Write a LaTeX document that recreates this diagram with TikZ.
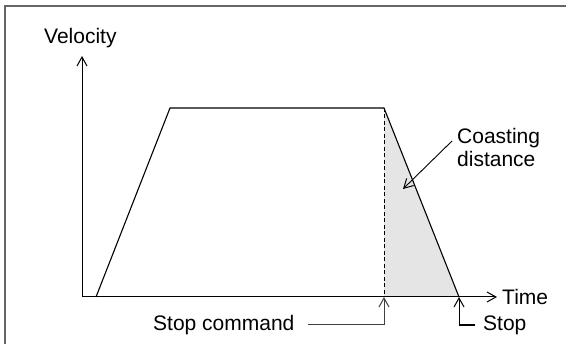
\documentclass[tikz,border=0pt]{standalone}
\usepackage{fontspec}
\setmainfont{Liberation Sans}
\usetikzlibrary{arrows.meta}
\tikzset{
  lbl/.style={inner sep=0pt, font=\fontsize{21}{23}\selectfont},
  axis/.style={line width=1pt, black},
  openarrow/.style={-{Straight Barb[length=9pt,width=10pt,line width=1pt]}},
  curve/.style={line width=1.1pt, black},
}
\begin{document}
\begin{tikzpicture}[x=1pt,y=-1pt]
\useasboundingbox (0,0) rectangle (566,344);
\clip (0,0) rectangle (566,344);
\fill[white] (0,0) rectangle (566,344);
% frame
\draw[line width=1.6pt, black!60] (5,6) rectangle (575,354);
% coordinates
\coordinate (O) at (82,297);
\coordinate (Ytop) at (82,56);
\coordinate (Xend) at (497,297);
\coordinate (A) at (96,297);
\coordinate (B) at (170,108);
\coordinate (C) at (384,108);
\coordinate (D) at (459,297);
\coordinate (Cb) at (384,297);
% gray area
\fill[black!10] (C) -- (D) -- (Cb) -- cycle;
% dashed line
\draw[line width=0.9pt, dash pattern=on 4pt off 2.5pt] (C) -- (Cb);
% axes
\draw[axis, openarrow] (O) -- (Ytop);
\draw[axis, openarrow] (O) -- (Xend);
% velocity profile
\draw[curve, line join=miter] (A) -- (B) -- (C) -- (D);
% labels
\node[lbl, anchor=base west] (vel) at (44,44) {Velocity};
\node[lbl, anchor=base west] (time) at (502,305) {Time};
\node[lbl, anchor=base west] (coast) at (457,144) {Coasting};
\node[lbl, anchor=base west] (dist) at (457,167) {distance};
\node[lbl, anchor=base west] (stopcmd) at (153,331) {Stop command};
\node[lbl, anchor=base west] (stop) at (483,331) {Stop};
% coasting arrow
\coordinate (cst) at (452,141);
\coordinate (cen) at (403,189);
\draw[line width=0.9pt, openarrow] (cst) -- (cen);
% stop command arrow
\coordinate (sc0) at (308,325);
\coordinate (sc1) at (384,325);
\draw[line width=1pt, black!75, openarrow] (sc0) -- (sc1) -- (Cb);
% stop arrow
\coordinate (st0) at (475,325);
\coordinate (st1) at (459,325);
\draw[line width=2pt, black] (st0) -- (st1);
\draw[line width=1pt, black, openarrow] (st1) -- (D);
\end{tikzpicture}
\end{document}
